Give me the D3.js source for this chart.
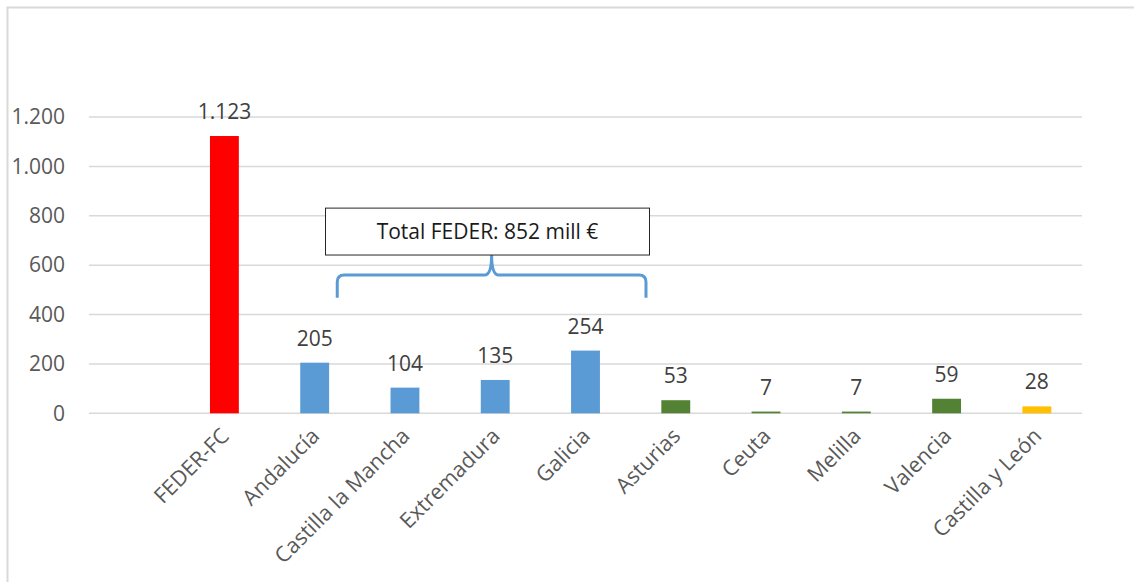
<!DOCTYPE html>
<html>
<head>
<meta charset="utf-8">
<script src="https://cdn.jsdelivr.net/npm/d3@7"></script>
<style>
  body { margin: 0; background: #fff; }
  svg text { font-family: "Open Sans", sans-serif; }
</style>
</head>
<body>
<div id="chart"></div>
<script>
'use strict';

// categories (first slot is left empty in the original chart)
let categories = ['', 'FEDER-FC', 'Andalucía', 'Castilla la Mancha', 'Extremadura', 'Galicia',
                  'Asturias', 'Ceuta', 'Melilla', 'Valencia', 'Castilla y León'];
let values = [null, 1123, 205, 104, 135, 254, 53, 7, 7, 59, 28];
let groups = [null, 'fc', 'conv', 'conv', 'conv', 'conv', 'trans', 'trans', 'trans', 'trans', 'dev'];
let y_ticks = [0, 200, 400, 600, 800, 1000, 1200];
let note_text = 'Total FEDER: 852 mill €';

let colours = {fc: '#ff0000', conv: '#5b9bd5', trans: '#548235', dev: '#ffc000'};

let width = 1134, height = 582;
let margin = {left: 89, right: 52, top: 117, bottom: 169};

let svg = d3.select('#chart').append('svg')
    .attr('width', width)
    .attr('height', height);

// light outer border, like the excel chart area
svg.append('rect')
    .attr('x', 7.5).attr('y', 7.5)
    .attr('width', width + 10).attr('height', height + 10)
    .attr('fill', 'none')
    .attr('stroke', '#d9d9d9')
    .attr('stroke-width', 2);

let x = d3.scaleBand()
    .domain(categories.map(function(d, i) { return i; }))
    .range([margin.left, width - margin.right])
    .paddingInner(0.68)
    .paddingOuter(0.34);

let y = d3.scaleLinear()
    .domain([0, 1200])
    .range([height - margin.bottom + 0.3, margin.top]);

// gridlines
svg.append('g')
    .selectAll('line')
    .data(y_ticks)
    .enter().append('line')
      .attr('x1', margin.left)
      .attr('x2', width - margin.right)
      .attr('y1', function(d) { return y(d); })
      .attr('y2', function(d) { return y(d); })
      .attr('stroke', '#d9d9d9')
      .attr('stroke-width', 1.5);

// y axis labels
let fmt = function(v) { return d3.format(',')(v).replace(/,/g, '.'); };
let yAxis = d3.axisLeft(y).tickValues(y_ticks).tickSize(0).tickPadding(24).tickFormat(fmt);
let yg = svg.append('g')
    .attr('transform', 'translate(' + margin.left + ',0)')
    .call(yAxis);
yg.select('.domain').remove();
yg.selectAll('text')
    .attr('fill', '#595959')
    .style('font-size', '21px')
    .style('font-family', '"Open Sans", sans-serif');

// bars
let barData = categories.map(function(c, i) {
    return {i: i, cat: c, v: values[i], g: groups[i]};
}).filter(function(d) { return d.v != null; });

svg.append('g')
    .selectAll('rect')
    .data(barData)
    .enter().append('rect')
      .attr('x', function(d) { return x(d.i); })
      .attr('width', x.bandwidth())
      .attr('y', function(d) { return y(d.v); })
      .attr('height', function(d) { return y(0) - y(d.v); })
      .attr('fill', function(d) { return colours[d.g]; });

// value labels
svg.append('g')
    .selectAll('text')
    .data(barData)
    .enter().append('text')
      .attr('x', function(d) { return x(d.i) + x.bandwidth() / 2; })
      .attr('y', function(d) { return y(d.v) - 17; })
      .attr('text-anchor', 'middle')
      .attr('fill', '#404040')
      .style('font-size', '21px')
      .text(function(d) { return fmt(d.v); });

// x labels, rotated
svg.append('g')
    .selectAll('text')
    .data(barData)
    .enter().append('text')
      .attr('transform', function(d) {
          let cx = x(d.i) + x.bandwidth() / 2 + 6;
          return 'translate(' + cx + ',' + (y(0) + 24) + ') rotate(-45)';
      })
      .attr('text-anchor', 'end')
      .attr('fill', '#595959')
      .style('font-size', '21.5px')
      .text(function(d) { return d.cat; });

// annotation: bracket over the FEDER regions + text box
let step = x.step();
let bx0 = x(2) + x.bandwidth() / 2 + step * 0.25;
let bx1 = x(5) + x.bandwidth() / 2 + step * 0.67;
let bmid = (bx0 + bx1) / 2;
let yb = y(468), yt = y(560), ytip = y(641);
let r = 7;

let bracket = d3.path();
bracket.moveTo(bx0, yb);
bracket.lineTo(bx0, yt + r);
bracket.quadraticCurveTo(bx0, yt, bx0 + r, yt);
bracket.lineTo(bmid - r, yt);
bracket.quadraticCurveTo(bmid, yt, bmid, ytip);
bracket.quadraticCurveTo(bmid, yt, bmid + r, yt);
bracket.lineTo(bx1 - r, yt);
bracket.quadraticCurveTo(bx1, yt, bx1, yt + r);
bracket.lineTo(bx1, yb);

svg.append('path')
    .attr('d', bracket.toString())
    .attr('fill', 'none')
    .attr('stroke', '#5b9bd5')
    .attr('stroke-width', 3);

let boxTop = y(831), boxBot = y(641);
svg.append('rect')
    .attr('x', 325.5).attr('y', boxTop)
    .attr('width', 324).attr('height', boxBot - boxTop)
    .attr('fill', '#fff')
    .attr('stroke', '#262626')
    .attr('stroke-width', 1);

svg.append('text')
    .attr('x', 325.5 + 162)
    .attr('y', (boxTop + boxBot) / 2 + 7.5)
    .attr('text-anchor', 'middle')
    .attr('fill', '#1a1a1a')
    .style('font-size', '21px')
    .text(note_text);
</script>
</body>
</html>
